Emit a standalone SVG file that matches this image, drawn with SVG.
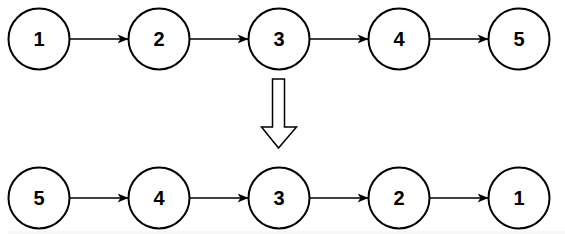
<svg xmlns="http://www.w3.org/2000/svg" width="565" height="234" viewBox="0 0 565 234">
<style>
.n{fill:#fff;stroke:#000;stroke-width:2}
.t{font-family:"Liberation Sans",Arial,sans-serif;font-weight:bold;font-size:20px;text-anchor:middle;fill:#000}
.e{stroke:#000;stroke-width:1.5;fill:none;marker-end:url(#ah)}
</style>
<defs>
<marker id="ah" viewBox="0 0 11 9" refX="10.5" refY="4.5" markerWidth="11" markerHeight="9" markerUnits="userSpaceOnUse" orient="auto">
<path d="M0,0 L11,4.5 L0,9 L3,4.5 Z" fill="#000"/>
</marker>
</defs>
<rect x="8" y="231" width="557" height="3" fill="#f7f7f7"/>
<g id="connectors">
<line class="e" x1="70" y1="39" x2="128" y2="39"/>
<line class="e" x1="190" y1="39" x2="248" y2="39"/>
<line class="e" x1="310" y1="39" x2="368" y2="39"/>
<line class="e" x1="430" y1="39" x2="488" y2="39"/>
<line class="e" x1="70" y1="198" x2="128" y2="198"/>
<line class="e" x1="190" y1="198" x2="248" y2="198"/>
<line class="e" x1="310" y1="198" x2="368" y2="198"/>
<line class="e" x1="430" y1="198" x2="488" y2="198"/>
</g>
<g id="top1"><circle class="n" cx="39" cy="39" r="30.5"/><text class="t" x="39" y="46">1</text></g>
<g id="top2"><circle class="n" cx="159" cy="39" r="30.5"/><text class="t" x="159" y="46">2</text></g>
<g id="top3"><circle class="n" cx="279" cy="39" r="30.5"/><text class="t" x="279" y="46">3</text></g>
<g id="top4"><circle class="n" cx="399" cy="39" r="30.5"/><text class="t" x="399" y="46">4</text></g>
<g id="top5"><circle class="n" cx="519" cy="39" r="30.5"/><text class="t" x="519" y="46">5</text></g>
<g id="down-arrow"><path d="M272.5,79 L284.5,79 L284.5,127 L296.5,127 L278.5,148 L261.5,127 L272.5,127 Z" fill="#fff" stroke="#000" stroke-width="1.5"/></g>
<g id="bot5"><circle class="n" cx="39" cy="198" r="30.5"/><text class="t" x="39" y="205">5</text></g>
<g id="bot4"><circle class="n" cx="159" cy="198" r="30.5"/><text class="t" x="159" y="205">4</text></g>
<g id="bot3"><circle class="n" cx="279" cy="198" r="30.5"/><text class="t" x="279" y="205">3</text></g>
<g id="bot2"><circle class="n" cx="399" cy="198" r="30.5"/><text class="t" x="399" y="205">2</text></g>
<g id="bot1"><circle class="n" cx="519" cy="198" r="30.5"/><text class="t" x="519" y="205">1</text></g>
</svg>
